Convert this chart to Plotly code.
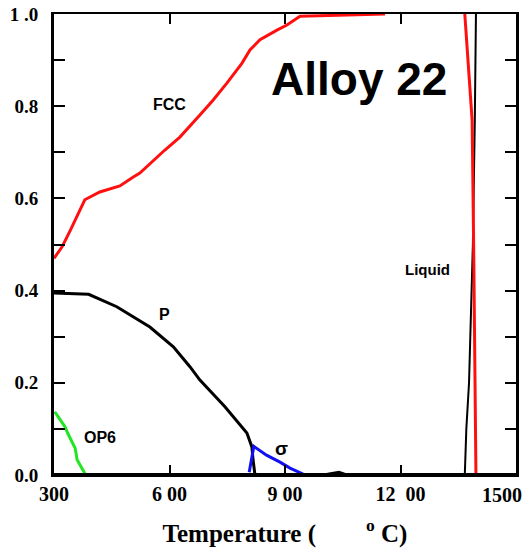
import plotly.graph_objects as go

# Phase fractions vs temperature (°C) for Alloy 22
fcc_T = [300, 321, 342, 357, 380, 419, 471, 505, 523, 588, 627, 679, 713, 749, 788, 809,
         835, 879, 905, 939, 1160, None, 1367, 1376, 1386, 1390, 1394, 1396]
fcc_f = [0.47, 0.495, 0.53, 0.557, 0.597, 0.614, 0.627, 0.646, 0.655, 0.705, 0.733, 0.781,
         0.813, 0.85, 0.893, 0.922, 0.944, 0.965, 0.976, 0.995, 1.0, None, 1.0, 0.9, 0.77,
         0.5, 0.2, 0.0]

p_T = [300, 390, 463, 549, 610, 653, 679, 744, 801, 814, 817, 822, 1000, 1040, 1060, 1136]
p_f = [0.395, 0.392, 0.365, 0.321, 0.278, 0.235, 0.206, 0.148, 0.091, 0.061, 0.033, 0.0,
       0.0, 0.006, 0.0, 0.0]

op6_T = [302, 329, 336, 355, 360, 381]
op6_f = [0.137, 0.104, 0.09, 0.058, 0.033, 0.002]

sigma_T = [807, 819, 852, 887, 913, 947]
sigma_f = [0.006, 0.062, 0.043, 0.028, 0.015, 0.002]

liq_T = [1367, 1371, 1378, 1388, 1393, 1396]
liq_f = [0.0, 0.1, 0.2, 0.5, 0.77, 1.0]

x_tickvals = [300, 600, 900, 1200, 1500]
x_ticktext = ["300", "6 00", "9 00", "12\u00a0\u00a000", ""]
x_end_tick = [1500]
x_end_text = ["1500"]
y_tickvals = [0.0, 0.1, 0.2, 0.3, 0.4, 0.5, 0.6, 0.7, 0.8, 0.9, 1.0]
y_ticktext = ["0.0", " ", "0.2", " ", "0.4", " ", "0.6", " ", "0.8", " ", "1 .0"]

labels = [
    ("FCC", 601, 0.804, 16),
    ("P", 588, 0.349, 16),
    ("OP6", 419, 0.082, 16),
    ("σ", 892, 0.058, 19),
    ("Liquid", 1269, 0.445, 15),
    ("Alloy 22", 1092, 0.859, 46),
]

fig = go.Figure()
line_opts = dict(mode="lines", showlegend=False, hoverinfo="skip")
fig.add_trace(go.Scatter(x=p_T, y=p_f, line=dict(color="black", width=3), **line_opts))
fig.add_trace(go.Scatter(x=op6_T, y=op6_f, line=dict(color="#22e622", width=3), **line_opts))
fig.add_trace(go.Scatter(x=sigma_T, y=sigma_f, line=dict(color="#1010f0", width=3), **line_opts))
fig.add_trace(go.Scatter(x=liq_T, y=liq_f, line=dict(color="black", width=2), **line_opts))
fig.add_trace(go.Scatter(x=fcc_T, y=fcc_f, line=dict(color="#ff1010", width=3),
                         connectgaps=False, **line_opts))

for text, tx, ty, size in labels:
    fig.add_annotation(x=tx, y=ty, text=text, showarrow=False,
                       font=dict(family="Liberation Sans, Arial", size=size,
                                 color="black", weight="bold"))

serif_x = dict(family="Liberation Serif, Times New Roman", size=20, color="black", weight="bold")
serif_y = dict(family="Liberation Serif, Times New Roman", size=19, color="black", weight="bold")

fig.update_xaxes(range=[300, 1500], tickvals=x_tickvals, ticktext=x_ticktext,
                 ticks="inside", ticklen=10, tickwidth=2, tickcolor="black",
                 showline=True, linewidth=2, linecolor="black", mirror="ticks",
                 showgrid=False, zeroline=False, tickfont=serif_x,
                 automargin=False,
                 title=dict(text="\u00a0\u00a0Temperature (\u00a0\u00a0\u00a0\u00a0\u00a0\u00a0\u00a0\u00a0<sup>o</sup> C)",
                            font=dict(family="Liberation Serif, Times New Roman", size=25,
                                      color="black", weight="bold"),
                            standoff=20))
fig.update_yaxes(range=[0, 1], tickvals=y_tickvals, ticktext=y_ticktext,
                 ticks="inside", ticklen=11, tickwidth=2, tickcolor="black",
                 showline=True, linewidth=3, linecolor="black", mirror="ticks",
                 showgrid=False, zeroline=False, tickfont=serif_y, ticklabelstandoff=9,
                 automargin=False)

# end label of the temperature axis, right-aligned at the corner
fig.update_layout(xaxis2=dict(overlaying="x", anchor="y", side="bottom", range=[300, 1500],
                              tickvals=x_end_tick, ticktext=x_end_text, ticks="",
                              ticklabelposition="outside left", ticklabelshift=6,
                              ticklabelstandoff=6,
                              showline=False, showgrid=False, zeroline=False,
                              tickfont=serif_x, automargin=False, ticklabeloverflow="allow"))
fig.add_trace(go.Scatter(x=[1500], y=[None], xaxis="x2", yaxis="y", **line_opts))

# heavier baseline along the bottom axis
fig.add_shape(type="line", xref="paper", yref="paper", x0=0, x1=1, y0=0, y1=0,
              line=dict(color="black", width=4))

fig.update_layout(width=524, height=548, margin=dict(l=54, r=8, t=14, b=73),
                  paper_bgcolor="white", plot_bgcolor="white")

fig.write_html("out.html")
